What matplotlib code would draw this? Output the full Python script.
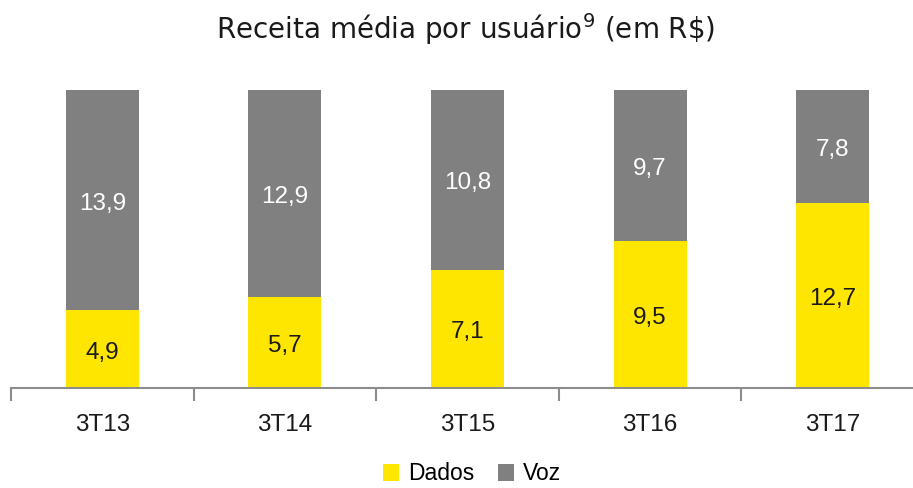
import matplotlib as mpl
import matplotlib.pyplot as plt
import numpy as np

categories = ["3T13", "3T14", "3T15", "3T16", "3T17"]
dados = [4.9, 5.7, 7.1, 9.5, 12.7]
voz = [13.9, 12.9, 10.8, 9.7, 7.8]

YELLOW = "#FFE600"
GRAY = "#808080"
TEXT = "#1a1a1a"

mpl.rcParams['font.family'] = "Liberation Sans"

fig = plt.figure(figsize=(9.13, 4.88), dpi=100)
# axis line runs past the right edge of the picture, as in the original slide
ax = fig.add_axes([11 / 913, 1 - 388 / 488, 913 / 913, 298 / 488])

x = np.arange(len(categories))
dados_arr = np.array(dados)
voz_arr = np.array(voz)
total = dados_arr + voz_arr
dados_share = dados_arr / total
voz_share = voz_arr / total

ax.bar(x, dados_share, width=0.4, color=YELLOW, label="Dados")
ax.bar(x, voz_share, width=0.4, bottom=dados_share, color=GRAY, label="Voz")

for i in range(len(categories)):
    ax.text(x[i], dados_share[i] / 2 - 0.012, f"{dados[i]:.1f}".replace(".", ","),
            ha="center", va="center", fontsize=17.5, color=TEXT)
    ax.text(x[i], dados_share[i] + voz_share[i] / 2 - 0.012, f"{voz[i]:.1f}".replace(".", ","),
            ha="center", va="center", fontsize=17.5, color="white")

ax.set_xlim(-0.5, len(categories) - 0.5)
ax.set_ylim(0, 1)
ax.set_yticks([])
for side in ["top", "right", "left"]:
    ax.spines[side].set_visible(False)
ax.spines["bottom"].set_color("#8c8c8c")
ax.spines["bottom"].set_linewidth(1.5)

# category labels between boundary ticks
ax.set_xticks(x)
ax.set_xticklabels(categories, fontsize=17.5, color=TEXT)
ax.tick_params(axis="x", which="major", length=0, pad=19)
ax.set_xticks(np.arange(len(categories) + 1) - 0.5, minor=True)
ax.tick_params(axis="x", which="minor", length=9, width=1.5, color="#8c8c8c", direction="out")

fig.text(466 / 913, 1 - 29 / 488, "Receita média por usuário$^9$ (em R$\\$$)",
         ha="center", va="center", fontsize=20, color=TEXT, family="DejaVu Sans")

handles, labels = ax.get_legend_handles_labels()
fig.legend(handles, labels, loc="center", bbox_to_anchor=(472 / 913, 1 - 474 / 488),
           ncol=2, frameon=False, fontsize=16.5, handlelength=0.7, handleheight=0.7,
           handletextpad=0.4, columnspacing=1.0)

fig.savefig("out.png", dpi=100)
